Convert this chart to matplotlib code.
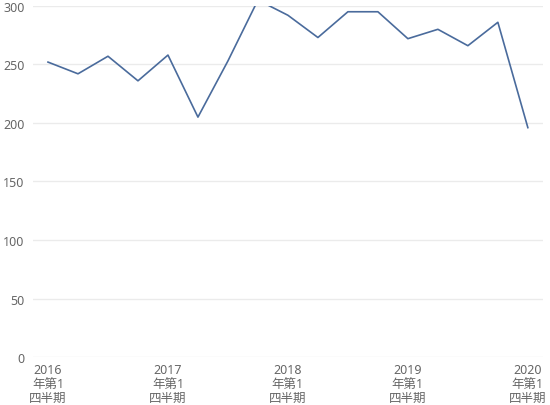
import numpy as np
import matplotlib
matplotlib.use("Agg")
import matplotlib.pyplot as plt

plt.rcParams['font.family'] = ['Noto Sans', 'Noto Sans CJK JP', 'DejaVu Sans']

# 四半期ごとの値 (2016年第1四半期 〜 2020年第1四半期)
quarters = ['2016Q1', '2016Q2', '2016Q3', '2016Q4',
            '2017Q1', '2017Q2', '2017Q3', '2017Q4',
            '2018Q1', '2018Q2', '2018Q3', '2018Q4',
            '2019Q1', '2019Q2', '2019Q3', '2019Q4',
            '2020Q1']
values = [252, 242, 257, 236,
          258, 205, 253, 305,
          292, 273, 295, 295,
          272, 280, 266, 286,
          196]
tick_idx = [0, 4, 8, 12, 16]
tick_labels = ['2016\n年第1\n四半期', '2017\n年第1\n四半期', '2018\n年第1\n四半期',
               '2019\n年第1\n四半期', '2020\n年第1\n四半期']
y_ticks = [0, 50, 100, 150, 200, 250, 300]

fig = plt.figure(figsize=(5.5, 4.06), dpi=100)
ax = fig.add_axes([0.06, 0.118, 0.927, 0.865])

x = np.arange(len(quarters))
ax.plot(x, values, color='#4a6b9c', linewidth=1.2)

ax.set_xlim(-0.5, len(quarters) - 0.5)
ax.set_ylim(0, 300)
ax.set_yticks(y_ticks)
ax.set_xticks(tick_idx)
ax.set_xticklabels(tick_labels, linespacing=1.1)

ax.grid(axis='y', color='#ebebeb', linewidth=1)
ax.set_axisbelow(True)
for s in ax.spines.values():
    s.set_visible(False)
ax.tick_params(length=0, labelsize=9, colors='#666666', pad=4)
ax.tick_params(axis='y', pad=6)

fig.savefig('out.png', dpi=100)
